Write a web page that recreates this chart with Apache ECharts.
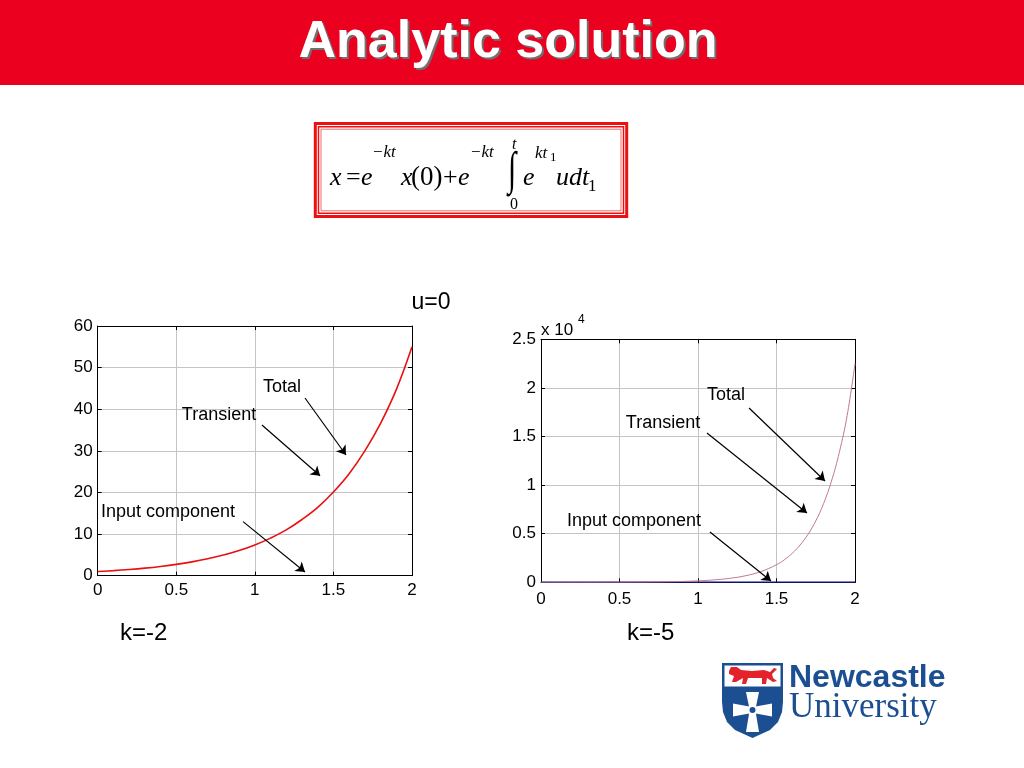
<!DOCTYPE html>
<html><head><meta charset="utf-8">
<script src="https://cdn.jsdelivr.net/npm/echarts@6/dist/echarts.min.js"></script>
<style>html,body{margin:0;padding:0;background:#fff}#c{width:1024px;height:768px}</style>
</head><body><div id="c"></div>
<script>
// ---- data ----
const xTickLabels = ['0', '0.5', '1', '1.5', '2'];
const leftYTickLabels = ['0', '10', '20', '30', '40', '50', '60'];
const rightYTickLabels = ['0', '0.5', '1', '1.5', '2', '2.5'];

const leftT = [0, 0.1, 0.2, 0.3, 0.4, 0.5, 0.6, 0.7, 0.8, 0.9, 1.0, 1.1, 1.2, 1.3, 1.4, 1.5, 1.6, 1.7, 1.8, 1.9, 2.0];
const leftTotal = [1.0, 1.22, 1.49, 1.82, 2.23, 2.72, 3.32, 4.06, 4.95, 6.05, 7.39, 9.03, 11.0, 13.5, 16.4, 20.1, 24.5, 30.0, 36.6, 44.7, 55.0];

const rightT = [0, 0.1, 0.2, 0.3, 0.4, 0.5, 0.6, 0.7, 0.8, 0.9, 1.0, 1.1, 1.2, 1.3, 1.4, 1.5, 1.55, 1.6, 1.65, 1.7, 1.75, 1.8, 1.85, 1.9, 1.95, 2.0];
const rightTotal = [1, 1.6, 2.7, 4.5, 7.4, 12, 20, 33, 55, 90, 148, 245, 403, 665, 1097, 1808, 2316, 2981, 3827, 4915, 6310, 8103, 10405, 13360, 17154, 22500];
const rightInputT = [0, 2];
const rightInput = [0, 0];

// annotation labels and arrows, in data units: [textX, textY, arrowFromX, arrowFromY, arrowToX, arrowToY]
const annotationNames = ['Total', 'Transient', 'Input component'];
const leftAnnot = [
  [1.173, 45.3, 1.319, 42.7, 1.580, 29.0],
  [0.772, 38.6, 1.045, 36.2, 1.415, 24.0],
  [0.447, 15.3, 0.925, 13.0, 1.319, 0.9]
];
const rightAnnot = [
  [1.178, 19290, 1.325, 17930, 1.809, 10420],
  [0.777, 16390, 1.057, 15360, 1.694, 7130],
  [0.592, 6310, 1.076, 5170, 1.465, 130]
];

// ---- helpers ----
const FONT = 'Liberation Sans';
function zip(a, b) { return a.map((v, i) => [v, b[i]]); }

function xAxes(grid) {
  return [{
    type: 'value', gridIndex: grid, min: 0, max: 2, interval: 0.5, position: 'bottom',
    axisLine: { show: true, onZero: false, lineStyle: { color: '#000', width: 1 } },
    axisTick: { show: true, inside: true, length: 4, lineStyle: { color: '#000' } },
    axisLabel: { color: '#000', fontSize: 17, fontFamily: FONT, margin: grid === 0 ? 6 : 9,
      formatter: v => xTickLabels[Math.round(v / 0.5)] },
    splitLine: { show: true, lineStyle: { color: '#c4c4c4', width: 1 } }
  }, {
    type: 'value', gridIndex: grid, min: 0, max: 2, interval: 0.5, position: 'top',
    axisLine: { show: true, onZero: false, lineStyle: { color: '#000', width: 1 } },
    axisTick: { show: true, inside: true, length: 4, lineStyle: { color: '#000' } },
    axisLabel: { show: false }, splitLine: { show: false }
  }];
}
function yAxes(grid, max, interval, labels) {
  return [{
    type: 'value', gridIndex: grid, min: 0, max: max, interval: interval, position: 'left',
    axisLine: { show: true, onZero: false, lineStyle: { color: '#000', width: 1 } },
    axisTick: { show: true, inside: true, length: 4, lineStyle: { color: '#000' } },
    axisLabel: { color: '#000', fontSize: 17, fontFamily: FONT, margin: 5,
      formatter: v => labels[Math.round(v / interval)] },
    splitLine: { show: true, lineStyle: { color: '#c4c4c4', width: 1 } }
  }, {
    type: 'value', gridIndex: grid, min: 0, max: max, interval: interval, position: 'right',
    axisLine: { show: true, onZero: false, lineStyle: { color: '#000', width: 1 } },
    axisTick: { show: true, inside: true, length: 4, lineStyle: { color: '#000' } },
    axisLabel: { show: false }, splitLine: { show: false }
  }];
}
function markLines(ann) {
  return {
    silent: true, animation: false,
    symbol: ['none', 'arrow'], symbolSize: 9,
    lineStyle: { color: '#000', width: 1.2, type: 'solid' },
    label: { show: false },
    data: ann.map(a => [{ coord: [a[2], a[3]] }, { coord: [a[4], a[5]] }])
  };
}
function markPoints(ann) {
  return {
    silent: true, animation: false,
    symbol: 'circle', symbolSize: 1,
    itemStyle: { color: 'rgba(0,0,0,0)' },
    label: { show: true, position: 'inside', color: '#000', fontSize: 18, fontFamily: FONT, formatter: p => p.name },
    data: ann.map((a, i) => ({ name: annotationNames[i], coord: [a[0], a[1]] }))
  };
}
function txt(text, x, y, size, opts) {
  opts = opts || {};
  const el = {
    type: 'text', silent: true, z: opts.z || 10,
    style: {
      text: text, x: x, y: y,
      fill: opts.fill || '#000',
      fontSize: size,
      fontFamily: opts.family || FONT,
      fontWeight: opts.weight || 'normal',
      fontStyle: opts.italic ? 'italic' : 'normal',
      align: opts.align || 'left', textAlign: opts.align || 'left',
      verticalAlign: 'middle', textVerticalAlign: 'middle'
    }
  };
  return el;
}
function poly(points, fill) {
  return { type: 'polygon', silent: true, z: 10, shape: { points: points }, style: { fill: fill } };
}
// baseline -> middle helper
function bl(baseline, size) { return baseline - 0.31 * size; }

const SERIF = 'Liberation Serif';
const BLUE = '#1b4f92';

const integral = txt('\u222B', 0, 0, 30, { family: SERIF });
integral.x = 508; integral.y = 172; integral.scaleX = 1; integral.scaleY = 1.55;

const graphic = [
  // title bar
  { type: 'rect', silent: true, shape: { x: 0, y: 0, width: 1024, height: 85 }, style: { fill: '#eb0020' } },
  txt('Analytic solution', 510, 45, 52, { weight: 'bold', fill: '#707070', align: 'center' }),
  txt('Analytic solution', 508, 43, 52, { weight: 'bold', fill: '#ffffff', align: 'center', z: 11 }),
  // formula frame
  { type: 'rect', silent: true, shape: { x: 315.3, y: 123.5, width: 311.4, height: 93 }, style: { fill: '#fff', stroke: '#ee1010', lineWidth: 3 } },
  { type: 'rect', silent: true, shape: { x: 318.5, y: 126.7, width: 305, height: 86.6 }, style: { fill: 'none', stroke: '#ee1010', lineWidth: 1.5 } },
  { type: 'rect', silent: true, shape: { x: 321, y: 129.2, width: 300, height: 81.6 }, style: { fill: 'none', stroke: '#f46a6a', lineWidth: 1 } },
  // formula
  txt('x', 330, bl(186, 26), 26, { family: SERIF, italic: true }),
  txt('=', 346, bl(186, 26), 26, { family: SERIF }),
  txt('e', 361, bl(186, 26), 26, { family: SERIF, italic: true }),
  txt('\u2212kt', 372, bl(158, 17), 17, { family: SERIF, italic: true }),
  txt('x', 401, bl(186, 26), 26, { family: SERIF, italic: true }),
  txt('(0)', 411, bl(186, 27), 27, { family: SERIF }),
  txt('+', 443, bl(186, 26), 26, { family: SERIF }),
  txt('e', 458, bl(186, 26), 26, { family: SERIF, italic: true }),
  txt('\u2212kt', 470, bl(158, 17), 17, { family: SERIF, italic: true }),
  integral,
  txt('t', 512, 145, 16, { family: SERIF, italic: true }),
  txt('0', 510, 205, 16, { family: SERIF }),
  txt('e', 523, bl(186, 26), 26, { family: SERIF, italic: true }),
  txt('kt', 535, bl(159, 17), 17, { family: SERIF, italic: true }),
  txt('1', 550, bl(162, 13), 13, { family: SERIF }),
  txt('udt', 556, bl(186, 26), 26, { family: SERIF, italic: true }),
  txt('1', 588, bl(192, 17), 17, { family: SERIF }),
  // chart texts
  txt('u=0', 431, bl(310, 23), 23, { align: 'center' }),
  txt('k=-2', 120, bl(641, 24), 24),
  txt('k=-5', 627, bl(641, 24), 24),
  txt('x 10', 541, bl(336, 17), 17),
  txt('4', 578, 320, 12),
  // logo: shield
  poly([[722, 663], [783, 663], [783, 702], [782, 712], [778, 722], [770, 730], [752.5, 738], [735, 730], [727, 722], [723, 712], [722, 702]], BLUE),
  { type: 'rect', silent: true, z: 10, shape: { x: 724.5, y: 665.5, width: 56, height: 21 }, style: { fill: '#ffffff' } },
  // lion (simplified)
  poly([[729, 671], [731, 667], [737, 667], [741, 670], [752, 671], [764, 670], [770, 672], [774, 668], [777, 669], [772, 674], [773, 678], [777, 681], [773, 682], [767, 678], [766, 684], [762, 684], [762, 678], [748, 678], [746, 684], [742, 684], [743, 678], [736, 682], [732, 682], [734, 676], [729, 674]], '#e3222b'),
  // cross
  poly([[749.5, 709], [746, 692], [759, 692], [755.5, 709]], '#fff'),
  poly([[749.5, 711], [746, 732], [759, 732], [755.5, 711]], '#fff'),
  poly([[752, 707], [733, 703.5], [733, 716.5], [752, 713]], '#fff'),
  poly([[753, 707], [772, 703.5], [772, 716.5], [753, 713]], '#fff'),
  { type: 'circle', silent: true, z: 10, shape: { cx: 752.5, cy: 710, r: 5 }, style: { fill: '#fff' } },
  { type: 'circle', silent: true, z: 11, shape: { cx: 752.5, cy: 710, r: 3 }, style: { fill: BLUE } },
  txt('Newcastle', 789, 678, 32, { weight: 'bold', fill: BLUE }),
  txt('University', 789, 708, 35, { family: SERIF, fill: BLUE })
];

const option = {
  animation: false,
  backgroundColor: '#ffffff',
  grid: [
    { left: 97.7, top: 326, width: 314.3, height: 249.7, show: false },
    { left: 541, top: 339.3, width: 314, height: 243, show: false }
  ],
  xAxis: [...xAxes(0), ...xAxes(1)],
  yAxis: [...yAxes(0, 60, 10, leftYTickLabels), ...yAxes(1, 25000, 5000, rightYTickLabels)],
  series: [
    {
      name: 'Total k=-2', type: 'line', xAxisIndex: 0, yAxisIndex: 0,
      data: zip(leftT, leftTotal), showSymbol: false, smooth: 0.4,
      lineStyle: { color: '#e81010', width: 1.6 }, itemStyle: { color: '#e81010' },
      markLine: markLines(leftAnnot), markPoint: markPoints(leftAnnot), z: 3
    },
    {
      name: 'Input k=-5', type: 'line', xAxisIndex: 2, yAxisIndex: 2,
      data: zip(rightInputT, rightInput), showSymbol: false,
      lineStyle: { color: '#10106a', width: 1.6 }, itemStyle: { color: '#10106a' }, z: 3
    },
    {
      name: 'Total k=-5', type: 'line', xAxisIndex: 2, yAxisIndex: 2,
      data: zip(rightT, rightTotal), showSymbol: false, smooth: 0.4,
      lineStyle: { color: '#c07890', width: 1 }, itemStyle: { color: '#c07890' },
      markLine: markLines(rightAnnot), markPoint: markPoints(rightAnnot), z: 3
    }
  ],
  graphic: graphic
};

const chart = echarts.init(document.getElementById('c'), null, { renderer: 'canvas' });
chart.setOption(option);
</script>
</body></html>
